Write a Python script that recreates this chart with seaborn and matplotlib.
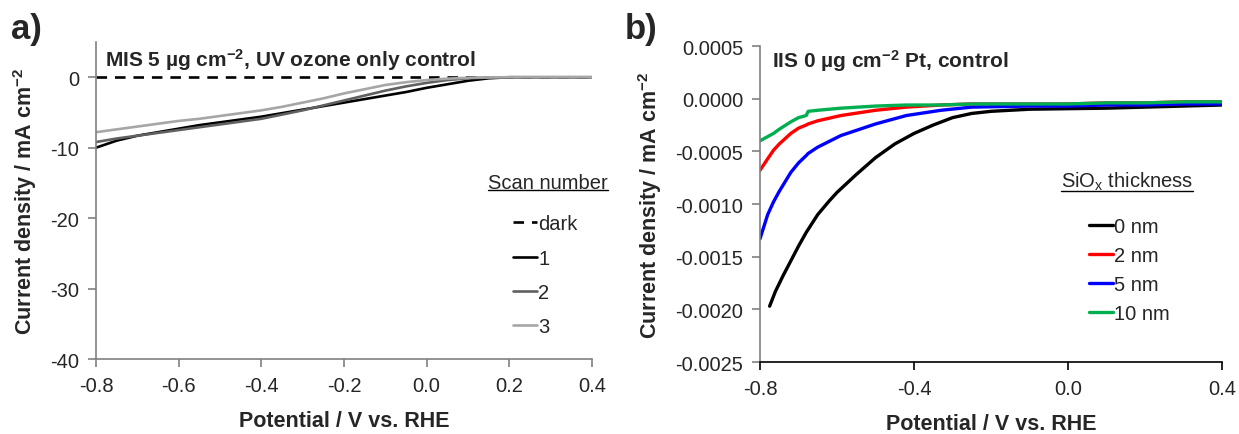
import numpy as np
import pandas as pd
import matplotlib
matplotlib.use("Agg")
import matplotlib.pyplot as plt
from matplotlib.lines import Line2D
import seaborn as sns

sns.set_style("ticks")
plt.rcParams['font.family'] = ['Liberation Sans', 'DejaVu Sans']
plt.rcParams['mathtext.fontset'] = 'custom'
plt.rcParams['mathtext.rm'] = 'Liberation Sans'
plt.rcParams['mathtext.bf'] = 'Liberation Sans:bold'
plt.rcParams['mathtext.it'] = 'Liberation Sans:italic'

# ---------------- Panel a data ----------------
pot_a = [-0.80, -0.75, -0.70, -0.65, -0.60, -0.55, -0.50, -0.45, -0.40, -0.35,
         -0.30, -0.25, -0.20, -0.15, -0.10, -0.05, 0.00, 0.05, 0.10, 0.15,
         0.20, 0.25, 0.30, 0.35, 0.40]
dark_a = [0.0] * 25
scan1 = [-10.0, -9.0, -8.3, -7.8, -7.3, -6.8, -6.4, -6.0, -5.6, -5.1,
         -4.6, -4.1, -3.6, -3.1, -2.6, -2.1, -1.5, -1.0, -0.5, -0.15,
         0.0, 0.0, 0.0, 0.0, 0.0]
scan2 = [-9.2, -8.7, -8.3, -7.9, -7.5, -7.1, -6.7, -6.3, -5.9, -5.3,
         -4.7, -4.0, -3.3, -2.6, -1.9, -1.3, -0.8, -0.4, -0.15, -0.05,
         0.0, 0.0, 0.0, 0.0, 0.0]
scan3 = [-7.8, -7.4, -7.0, -6.6, -6.2, -5.9, -5.5, -5.1, -4.7, -4.2,
         -3.6, -3.0, -2.3, -1.7, -1.1, -0.7, -0.4, -0.2, -0.08, -0.02,
         0.0, 0.0, 0.0, 0.0, 0.0]
labels_a = ["dark", "1", "2", "3"]

# ---------------- Panel b data ----------------
pot_b0 = [-0.775, -0.76, -0.74, -0.72, -0.70, -0.68, -0.65, -0.62, -0.60, -0.55,
          -0.50, -0.45, -0.40, -0.35, -0.30, -0.25, -0.20, -0.15, -0.10, 0.0,
          0.1, 0.2, 0.3, 0.4]
nm0 = [-0.00197, -0.00183, -0.00168, -0.00154, -0.00140, -0.00127, -0.00110, -0.00097,
       -0.00089, -0.00072, -0.00056, -0.00043, -0.00033, -0.00025, -0.00018, -0.00014,
       -0.00012, -0.00011, -0.00010, -0.000095, -0.00009, -0.00008, -0.00007, -0.00006]
pot_b = [-0.80, -0.78, -0.765, -0.75, -0.72, -0.70, -0.68, -0.675, -0.65, -0.59,
         -0.50, -0.42, -0.33, -0.25, -0.10, 0.0, 0.1, 0.2, 0.3, 0.4]
nm2 = [-0.00068, -0.00057, -0.00049, -0.00043, -0.00033, -0.00028, -0.00025, -0.00024,
       -0.00021, -0.00016, -0.00011, -0.00008, -0.00006, -0.00005, -0.00005, -0.00005,
       -0.00004, -0.00004, -0.00003, -0.00003]
nm5 = [-0.00133, -0.00110, -0.00098, -0.00088, -0.00070, -0.00061, -0.00054, -0.00052,
       -0.00046, -0.00035, -0.00024, -0.00016, -0.00011, -0.00008, -0.00007, -0.00007,
       -0.00006, -0.00006, -0.00005, -0.00005]
nm10 = [-0.00040, -0.00036, -0.00033, -0.00029, -0.00022, -0.00018, -0.00016, -0.00012,
        -0.00011, -0.00009, -0.00007, -0.00006, -0.00006, -0.00005, -0.00005, -0.00005,
        -0.00004, -0.00004, -0.00003, -0.00003]
labels_b = ["0 nm", "2 nm", "5 nm", "10 nm"]

fig = plt.figure(figsize=(12.39, 4.35), dpi=100)
axa = fig.add_axes([0.0775, 0.1724, 0.4003, 0.7287])
axb = fig.add_axes([0.6134, 0.1655, 0.3729, 0.7264])

tick_fs = 14.5
lab_fs = 15.5
leg_fs = 14.5
ttl_fs = 15

# Panel a
colors_a = ["black", "black", "#606060", "#a6a6a6"]
styles_a = [(0, (4, 3)), "-", "-", "-"]
for ser, lab, c, ls in zip([dark_a, scan1, scan2, scan3], labels_a, colors_a, styles_a):
    sns.lineplot(x=pot_a, y=ser, ax=axa, color=c, lw=1.9, label=lab, linestyle=ls)
axa.set_xlim(-0.8, 0.4)
axa.set_ylim(-40, 5)
axa.set_xticks([-0.8, -0.6, -0.4, -0.2, 0.0, 0.2, 0.4])
axa.set_xticklabels(["-0.8", "-0.6", "-0.4", "-0.2", "0.0", "0.2", "0.4"])
axa.set_yticks([0, -10, -20, -30, -40])
axa.set_yticklabels(["0", "-10", "-20", "-30", "-40"])
axa.set_xlabel("Potential / V vs. RHE", fontsize=lab_fs, fontweight="bold", labelpad=11)
axa.set_ylabel(r"Current density / mA cm$^{\mathbf{-2}}$", fontsize=lab_fs, fontweight="bold", labelpad=8)
axa.text(0.018, 0.947, r"MIS 5 µg cm$^{\mathbf{-2}}$, UV ozone only control", transform=axa.transAxes,
         fontsize=ttl_fs, fontweight="bold", va="center", ha="left")
axa.legend(loc="upper left", bbox_to_anchor=(0.841, 0.456), frameon=False, fontsize=leg_fs,
           handlelength=1.2, handletextpad=0.05, labelspacing=0.75, borderaxespad=0, borderpad=0)
t_a = axa.text(0.790, 0.558, "Scan number", transform=axa.transAxes,
               fontsize=leg_fs, ha="left", va="center")

# Panel b
colors_b = ["black", "#ff0000", "#0000ff", "#00b050"]
sns.lineplot(x=pot_b0, y=nm0, ax=axb, color=colors_b[0], lw=2.4, label=labels_b[0])
for ser, lab, c in zip([nm2, nm5, nm10], labels_b[1:], colors_b[1:]):
    sns.lineplot(x=pot_b, y=ser, ax=axb, color=c, lw=2.4, label=lab)
axb.set_xlim(-0.8, 0.4)
axb.set_ylim(-0.0025, 0.0005)
axb.set_xticks([-0.8, -0.4, 0.0, 0.4])
axb.set_xticklabels(["-0.8", "-0.4", "0.0", "0.4"])
yt = [0.0005, 0.0, -0.0005, -0.0010, -0.0015, -0.0020, -0.0025]
axb.set_yticks(yt)
axb.set_yticklabels(["%.4f" % v if v != 0 else "0.0000" for v in yt])
axb.set_xlabel("Potential / V vs. RHE", fontsize=lab_fs, fontweight="bold", labelpad=11)
axb.set_ylabel(r"Current density / mA cm$^{\mathbf{-2}}$", fontsize=lab_fs, fontweight="bold", labelpad=8)
axb.text(0.025, 0.955, r"IIS 0 µg cm$^{\mathbf{-2}}$ Pt, control", transform=axb.transAxes,
         fontsize=ttl_fs, fontweight="bold", va="center", ha="left")
axb.legend(loc="upper left", bbox_to_anchor=(0.712, 0.460), frameon=False, fontsize=leg_fs,
           handlelength=1.2, handletextpad=0.05, labelspacing=0.51, borderaxespad=0, borderpad=0)
t_b = axb.text(0.651, 0.573, r"SiO$_{\mathrm{x}}$ thickness", transform=axb.transAxes,
               fontsize=leg_fs, ha="left", va="center")

for ax in (axa, axb):
    sns.despine(ax=ax)
    ax.tick_params(axis="both", labelsize=tick_fs, direction="out", length=6, width=1.2,
                   color="#808080", pad=6)
    ax.spines["left"].set_color("#808080")
    ax.spines["bottom"].set_color("#808080")
    ax.spines["left"].set_linewidth(1.2)
    ax.spines["bottom"].set_linewidth(1.2)
axb.spines["bottom"].set_color("black")
axb.tick_params(axis="x", color="black")

fig.text(0.009, 0.895, "a)", fontsize=25, fontweight="bold", ha="left", va="bottom")
fig.text(0.504, 0.895, "b)", fontsize=25, fontweight="bold", ha="left", va="bottom")

# underline legend titles
fig.canvas.draw()
r = fig.canvas.get_renderer()
inv = fig.transFigure.inverted()
for t, off in ((t_a, 1.5), (t_b, 1.0)):
    bb = t.get_window_extent(renderer=r)
    (x0, y0), (x1, _) = inv.transform([(bb.x0, bb.y0 + off), (bb.x1, bb.y0 + off)])
    fig.add_artist(Line2D([x0, x1], [y0, y0], transform=fig.transFigure, color="black", lw=1.0))

fig.savefig("out.png", dpi=100)
